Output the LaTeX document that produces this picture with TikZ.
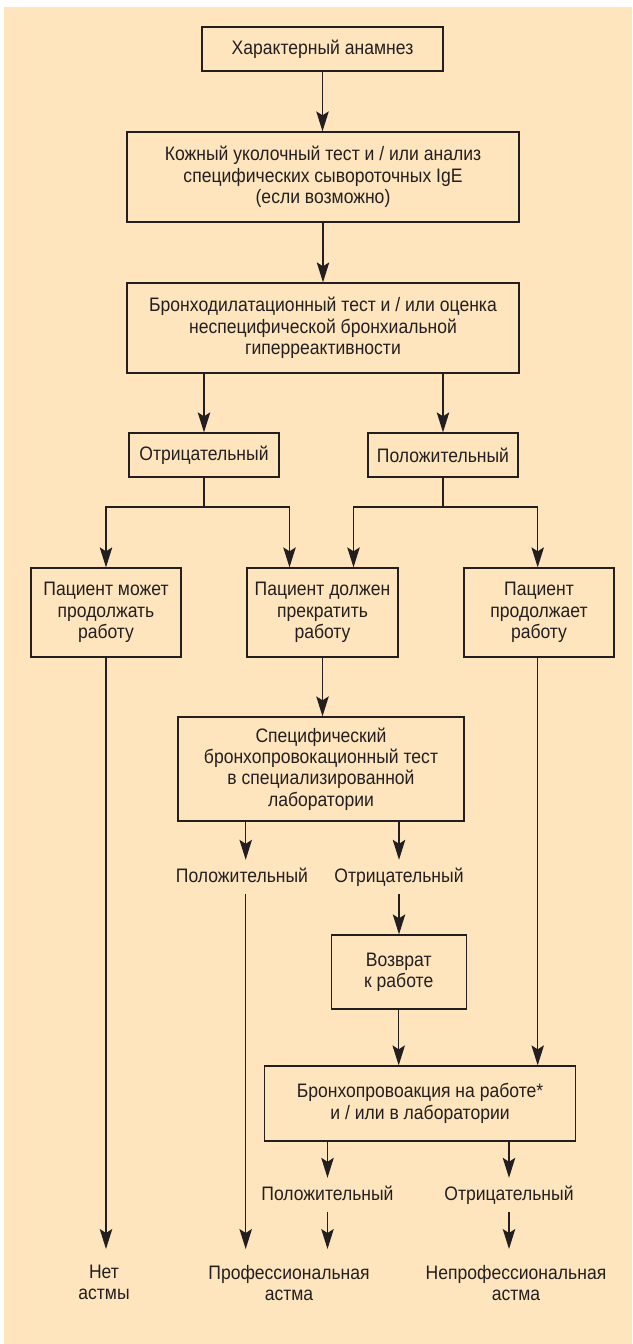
\documentclass[tikz,border=0pt]{standalone}
\usepackage{fontspec}
\setmainfont[FakeStretch=0.9]{Liberation Sans}
\usetikzlibrary{arrows.meta}
\definecolor{bg}{HTML}{FEE5BD}
\definecolor{ink}{HTML}{231F20}
\tikzset{
  box/.style={draw=ink, line width=1.3pt, align=center, inner sep=0pt, text=ink},
  lbl/.style={align=center, inner xsep=0pt, inner ysep=8pt, text height=14pt, text depth=4pt, text=ink},
  lbltwo/.style={align=center, inner xsep=0pt, inner ysep=16pt, anchor=north, text=ink},
  arr/.style={draw=ink, line width=1.2pt, -{Stealth[length=20pt,width=12.5pt,inset=4pt]}},
  ln/.style={draw=ink, line width=1.2pt}
}
\begin{document}
\begin{tikzpicture}[x=1pt, y=-1pt, font=\fontsize{19.5}{21.3}\selectfont]
\useasboundingbox (0,0) rectangle (632,1344);
\fill[bg] (4,7) rectangle (632,1344);

\node[box, minimum width=241pt, minimum height=44pt] (n1) at (322.5,49) {Характерный анамнез};
\node[box, minimum width=392pt, minimum height=90pt] (n2) at (323,177) {Кожный уколочный тест и / или анализ\\специфических сывороточных IgE\\(если возможно)};
\node[box, minimum width=392pt, minimum height=90pt] (n3) at (323,328) {Бронходилатационный тест и / или оценка\\неспецифической бронхиальной\\гиперреактивности};
\node[box, minimum width=150pt, minimum height=44pt] (neg1) at (204,455) {Отрицательный};
\node[box, minimum width=150pt, minimum height=44pt] (pos1) at (443,455) {Положительный};
\node[box, minimum width=150pt, minimum height=89pt] (may) at (106,612.5) {Пациент может\\продолжать\\работу};
\node[box, minimum width=151pt, minimum height=89pt] (must) at (322.5,612.5) {Пациент должен\\прекратить\\работу};
\node[box, minimum width=150pt, minimum height=89pt] (cont) at (539,612.5) {Пациент\\продолжает\\работу};
\node[box, minimum width=286pt, minimum height=104pt] (spec) at (321,769) {Специфический\\бронхопровокационный тест\\в специализированной\\лаборатории};
\node[lbl] (pos2) at (242,877) {Положительный};
\node[lbl] (neg2) at (399,877) {Отрицательный};
\node[box, minimum width=135pt, minimum height=74pt] (ret) at (398.7,972) {Возврат\\к работе};
\node[box, minimum width=311pt, minimum height=75pt] (fin) at (420,1103.5) {Бронхопровоакция на работе*\\и / или в лаборатории};
\node[lbl] (pos3) at (327.5,1195) {Положительный};
\node[lbl] (neg3) at (509,1195) {Отрицательный};
\node[lbltwo] (noa) at (104,1249) {Нет\\астмы};
\node[lbltwo] (occ) at (289,1249) {Профессиональная\\астма};
\node[lbltwo] (nonocc) at (516,1249) {Непрофессиональная\\астма};

\coordinate (jl) at (204,507);
\coordinate (jr) at (443,507);

\draw[arr] (n1.south) -- (n1.south |- n2.north);
\draw[arr] (n2.south) -- (n2.south |- n3.north);
\draw[arr] (neg1.north |- n3.south) -- (neg1.north);
\draw[arr] (pos1.north |- n3.south) -- (pos1.north);
\draw[ln] (neg1.south) -- (jl);
\draw[ln] (pos1.south) -- (jr);
\draw[arr] (jl) -| (may.north);
\draw[arr] (jl) -| ([xshift=-33pt]must.north);
\draw[arr] (jr) -| ([xshift=31pt]must.north);
\draw[arr] (jr) -| ([xshift=-1.3pt]cont.north);
\draw[arr] (must.south) -- (must.south |- spec.north);
\draw[arr] ([xshift=3.7pt]pos2.north |- spec.south) -- ([xshift=3.7pt]pos2.north);
\draw[arr] (neg2.north |- spec.south) -- (neg2.north);
\draw[arr] (neg2.south) -- (neg2.south |- ret.north);
\draw[arr] (ret.south) -- (ret.south |- fin.north);
\draw[arr] ([xshift=-1.3pt]cont.south) -- ([xshift=-1.3pt]cont.south |- fin.north);
\draw[arr] (may.south) -- (may.south |- noa.north);
\draw[arr] ([xshift=3.7pt]pos2.south) -- ([xshift=3.7pt]pos2.south |- occ.north);
\draw[arr] (pos3.north |- fin.south) -- (pos3.north);
\draw[arr] (neg3.north |- fin.south) -- (neg3.north);
\draw[arr] (pos3.south) -- (pos3.south |- occ.north);
\draw[arr] (neg3.south) -- (neg3.south |- nonocc.north);
\end{tikzpicture}
\end{document}
